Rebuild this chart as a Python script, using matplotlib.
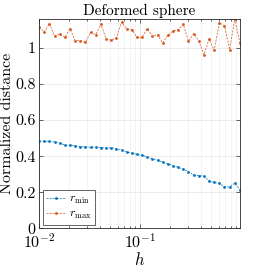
import matplotlib
matplotlib.use("Agg")
import matplotlib.pyplot as plt

plt.rcParams['font.family'] = ['cmr10', 'DejaVu Serif']
plt.rcParams['mathtext.fontset'] = 'cm'
plt.rcParams['axes.formatter.use_mathtext'] = True

# mesh size h (log spaced)
h = [0.01, 0.01125, 0.01265, 0.01423, 0.0160, 0.0180, 0.02024, 0.02277,
     0.02561, 0.0288, 0.03239, 0.03643, 0.04097, 0.04608, 0.05182, 0.05828,
     0.06555, 0.07372, 0.08291, 0.09324, 0.1049, 0.1179, 0.1327, 0.1492,
     0.1678, 0.1887, 0.2122, 0.2387, 0.2685, 0.302, 0.3396, 0.382,
     0.4296, 0.4831, 0.5433, 0.611, 0.6872, 0.7729, 0.8692, 0.9777]

r_min = [0.485, 0.482, 0.482, 0.479, 0.471, 0.462, 0.460, 0.457,
         0.453, 0.451, 0.449, 0.449, 0.447, 0.446, 0.445, 0.442,
         0.434, 0.423, 0.418, 0.410, 0.405, 0.397, 0.386, 0.377,
         0.368, 0.358, 0.348, 0.338, 0.327, 0.315, 0.295, 0.293,
         0.290, 0.264, 0.255, 0.249, 0.232, 0.229, 0.251, 0.215]

r_max = [1.113, 1.087, 1.133, 1.063, 1.076, 1.057, 1.104, 1.039,
         1.039, 1.030, 1.085, 1.072, 1.131, 1.048, 1.041, 1.054,
         1.141, 1.104, 1.100, 1.057, 1.057, 1.104, 1.063, 1.072,
         1.026, 1.069, 1.091, 1.100, 1.128, 1.035, 1.076, 1.039,
         0.961, 1.048, 0.985, 1.137, 1.122, 0.989, 1.159, 1.026]

fig = plt.figure(figsize=(2.66, 2.66), dpi=100)
ax = fig.add_axes([0.147, 0.141, 0.755, 0.788])

style = dict(ls=(0, (2.5, 1.5)), marker='.', ms=2.2, lw=0.6, alpha=0.85)
ax.plot(h, r_min, color='#0072BD', label=r'$r_{\min}$', **style)
ax.plot(h, r_max, color='#D95319', label=r'$r_{\max}$', **style)

ax.set_xscale('log')
ax.set_xlim(h[0], h[-1])
ax.set_ylim(0, max(r_max))
ax.set_yticks([0, 0.2, 0.4, 0.6, 0.8, 1])
ax.set_yticklabels(['0', '0.2', '0.4', '0.6', '0.8', '1'])

ax.grid(True, which='major', color='#e4e4e4', lw=0.5)
ax.grid(True, which='minor', color='#efefef', lw=0.5)
ax.set_axisbelow(True)
for s in ax.spines.values():
    s.set_color('#262626')
    s.set_linewidth(0.6)
ax.tick_params(which='both', direction='in', top=True, right=True, labelsize=11.5,
               color='#262626', width=0.5, pad=2.5)
ax.tick_params(which='major', length=3)
ax.tick_params(which='minor', length=1.5)

ax.set_title('Deformed sphere', fontsize=11, pad=3)
ax.set_xlabel('$h$', fontsize=12, labelpad=0)
ax.set_ylabel('Normalized distance', fontsize=11.5, labelpad=1)

leg = ax.legend(loc='lower left', fontsize=8.5, fancybox=False, framealpha=1,
                edgecolor='#262626', handlelength=1.6, borderpad=0.3,
                labelspacing=0.25, handletextpad=0.3, borderaxespad=0.3)
leg.get_frame().set_linewidth(0.5)

fig.savefig('out.png', dpi=100)
